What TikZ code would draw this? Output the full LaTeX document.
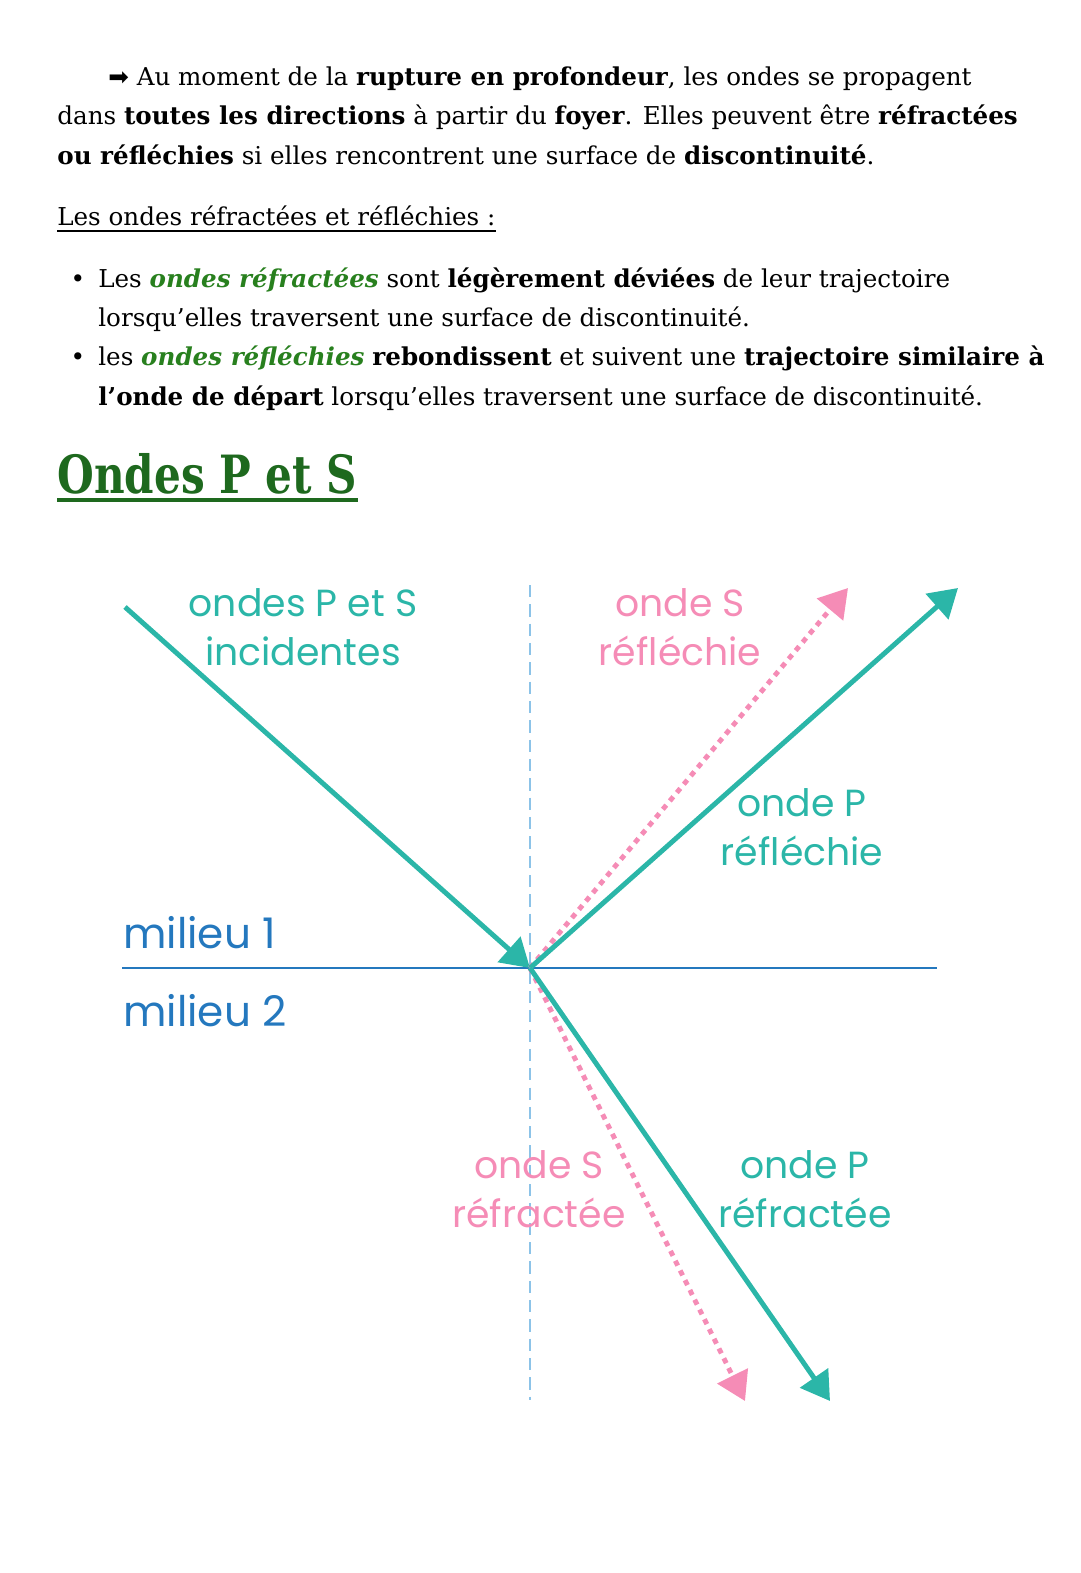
\documentclass[tikz,border=0pt]{standalone}
\usepackage{graphicx}
\usepackage{fontspec}
\setmainfont{DejaVu Serif}
\setsansfont{Poppins}
\newfontfamily\symfont{DejaVu Sans}
\usetikzlibrary{positioning,arrows.meta,calc}
\definecolor{tealcol}{RGB}{43,182,168}
\definecolor{pinkcol}{RGB}{245,140,182}
\definecolor{bluecol}{RGB}{36,120,190}
\definecolor{normcol}{RGB}{140,195,232}
\definecolor{titlecol}{RGB}{30,105,30}
\definecolor{greencol}{RGB}{40,128,30}

\begin{document}
\begin{tikzpicture}[
    x=0.02cm, y=-0.02cm,
    body/.style={anchor=base west, inner sep=0pt, font=\fontsize{14}{20}\selectfont},
    lab/.style={align=center, inner sep=0pt, font=\sffamily\fontsize{21.5}{28}\selectfont},
    milieu/.style={anchor=base west, inner sep=0pt, color=bluecol, font=\sffamily\fontsize{24}{28}\selectfont},
    pwave/.style={line width=2.8pt, color=tealcol, -{Triangle[length=16pt,width=19pt]}},
    swave/.style={line width=2.8pt, color=pinkcol, dash pattern=on 3.1pt off 3.1pt, -{Triangle[length=16pt,width=19pt]}},
]
\useasboundingbox (0,0) rectangle (1080,1573);

% ---- Text ----
\node[body] (l1) at (108,85) {{\symfont ➡} Au moment de la \textbf{rupture en profondeur}, les ondes se propagent};
\node[body] (l2) at (57,124) {dans \textbf{toutes les directions} à partir du \textbf{foyer}. Elles peuvent être \textbf{réfractées}};
\node[body] (l3) at (57,164) {\textbf{ou réfléchies} si elles rencontrent une surface de \textbf{discontinuité}.};

\node[body] (sub) at (57,225) {Les ondes réfractées et réfléchies :};
\draw[line width=1pt] ($(sub.base west)+(0,6)$) -- ($(sub.base east)+(0,6)$);

\node[body, anchor=base] (d1) at (78,287) {•};
\node[body] (b1) at (98,287) {Les \textcolor{greencol}{\textbf{\textit{ondes réfractées}}} sont \textbf{légèrement déviées} de leur trajectoire};
\node[body] (b1b) at (98,326) {lorsqu’elles traversent une surface de discontinuité.};
\node[body, anchor=base] (d2) at (78,365) {•};
\node[body] (b2) at (98,365) {les \textcolor{greencol}{\textbf{\textit{ondes réfléchies}}} \textbf{rebondissent} et suivent une \textbf{trajectoire similaire à}};
\node[body] (b2b) at (98,405) {\textbf{l’onde de départ} lorsqu’elles traversent une surface de discontinuité.};

\node[body, color=titlecol, font=\bfseries\fontsize{30}{34}\selectfont] (title) at (57,493) {\scalebox{0.8}[1]{Ondes P et S}};
\draw[titlecol, line width=2.3pt] ($(title.base west)+(0,7)$) -- ($(title.base east)+(0,7)$);

% ---- Media ----
\coordinate (O) at (530,968);
\draw[bluecol, line width=1.2pt] (122,968) coordinate (ml) -- (937,968) coordinate (mr);
\draw[normcol, line width=0.9pt, dash pattern=on 7pt off 4pt] (530,585) coordinate (nt) -- (530,1400) coordinate (nb);
\node[milieu] (m1) at (123,948) {milieu 1};
\node[milieu] (m2) at (123,1026) {milieu 2};

% ---- Waves ----
\coordinate (inc) at (125,607);
\coordinate (rp) at (958,588);
\coordinate (rs) at (848,588);
\coordinate (tp) at (830,1401);
\coordinate (ts) at (745,1401);
\draw[pwave] (inc) -- (O);
\draw[swave] (O) -- (rs);
\draw[pwave] (O) -- (rp);
\draw[swave] (O) -- (ts);
\draw[pwave] (O) -- (tp);

% ---- Labels ----
\node[lab, color=tealcol] (linc) at (303,627) {ondes P et S\\incidentes};
\node[lab, color=pinkcol] (lrs) at (680,627) {onde S\\réfléchie};
\node[lab, color=tealcol] (lrp) at (802,827) {onde P\\réfléchie};
\node[lab, color=pinkcol] (lts) at (539,1189) {onde S\\réfractée};
\node[lab, color=tealcol] (ltp) at (805,1189) {onde P\\réfractée};

\end{tikzpicture}
\end{document}
